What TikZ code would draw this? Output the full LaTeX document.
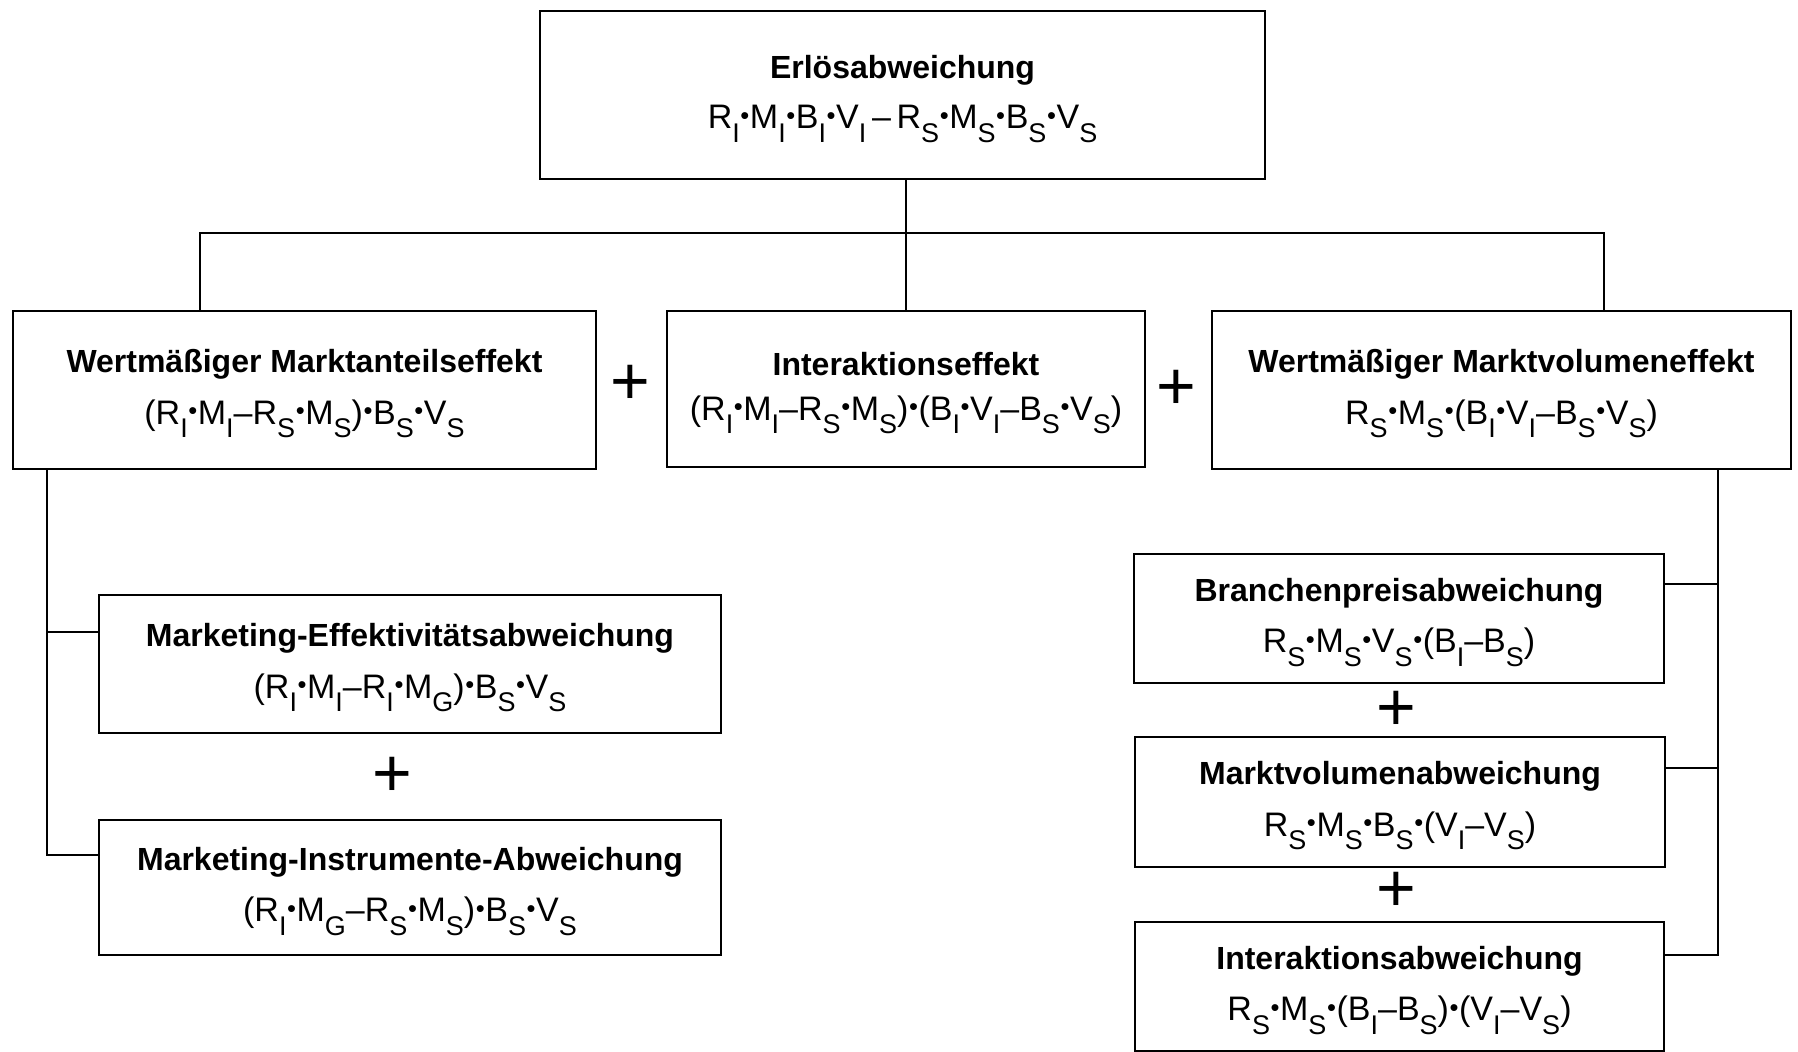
\documentclass[tikz,border=0pt]{standalone}
\usepackage{fontspec}
\setmainfont{Liberation Sans}
\usetikzlibrary{calc}
\newcommand{\ix}[2]{#1\raisebox{-0.75ex}{\fontsize{13.5}{13.5}\selectfont #2}}
\newcommand{\bt}{\kern0.3pt\raisebox{0.25ex}{\scalebox{0.75}{\textbullet}}\kern0.3pt}
\newcommand{\tl}[1]{{\fontsize{16}{19}\selectfont\bfseries\rule{0pt}{15.5pt}#1}}
\newcommand{\fm}[1]{{\fontsize{17}{20}\selectfont #1}}
\tikzset{
  box/.style={draw, line width=1.2pt, align=center, inner sep=0pt},
  conn/.style={line width=1pt},
  plus/.style={inner sep=0pt, font=\fontsize{34}{34}\selectfont\addfontfeature{FakeBold=-0.3}}
}
\begin{document}
\begin{tikzpicture}[x=0.5pt,y=-0.5pt]
\useasboundingbox (0,0) rectangle (1798,1051);
\node[box, minimum width=362.5pt, minimum height=84pt] (top) at (902.5,95)
  {\tl{Erlösabweichung}\\[9pt]\fm{\ix{R}{I}\bt\ix{M}{I}\bt\ix{B}{I}\bt\ix{V}{I}\,–\,\ix{R}{S}\bt\ix{M}{S}\bt\ix{B}{S}\bt\ix{V}{S}}};
\node[box, minimum width=291.5pt, minimum height=79pt] (L1) at (304.5,390)
  {\tl{Wertmäßiger Marktanteilseffekt}\\[9pt]\fm{(\ix{R}{I}\bt\ix{M}{I}–\ix{R}{S}\bt\ix{M}{S})\bt\ix{B}{S}\bt\ix{V}{S}}};
\node[box, minimum width=239pt, minimum height=78pt] (M1) at (906,389)
  {\tl{Interaktionseffekt}\\[9pt]\fm{(\ix{R}{I}\bt\ix{M}{I}–\ix{R}{S}\bt\ix{M}{S})\bt(\ix{B}{I}\bt\ix{V}{I}–\ix{B}{S}\bt\ix{V}{S})}};
\node[box, minimum width=289.5pt, minimum height=79pt] (R1) at (1501.5,390)
  {\tl{Wertmäßiger Marktvolumeneffekt}\\[9pt]\fm{\ix{R}{S}\bt\ix{M}{S}\bt(\ix{B}{I}\bt\ix{V}{I}–\ix{B}{S}\bt\ix{V}{S})}};
\node[box, minimum width=311pt, minimum height=69pt] (L2) at (410,664)
  {\tl{Marketing-Effektivitätsabweichung}\\[9pt]\fm{(\ix{R}{I}\bt\ix{M}{I}–\ix{R}{I}\bt\ix{M}{G})\bt\ix{B}{S}\bt\ix{V}{S}}};
\node[box, minimum width=311pt, minimum height=67.5pt] (L3) at (410,887.5)
  {\tl{Marketing-Instrumente-Abweichung}\\[9pt]\fm{(\ix{R}{I}\bt\ix{M}{G}–\ix{R}{S}\bt\ix{M}{S})\bt\ix{B}{S}\bt\ix{V}{S}}};
\node[box, minimum width=265pt, minimum height=64.5pt] (R2) at (1399,618.5)
  {\tl{Branchenpreisabweichung}\\[9pt]\fm{\ix{R}{S}\bt\ix{M}{S}\bt\ix{V}{S}\bt(\ix{B}{I}–\ix{B}{S})}};
\node[box, minimum width=265pt, minimum height=65pt] (R3) at (1400,802)
  {\tl{Marktvolumenabweichung}\\[9pt]\fm{\ix{R}{S}\bt\ix{M}{S}\bt\ix{B}{S}\bt(\ix{V}{I}–\ix{V}{S})}};
\node[box, minimum width=264.5pt, minimum height=64.5pt] (R4) at (1399.5,986.5)
  {\tl{Interaktionsabweichung}\\[9pt]\fm{\ix{R}{S}\bt\ix{M}{S}\bt(\ix{B}{I}–\ix{B}{S})\bt(\ix{V}{I}–\ix{V}{S})}};
\node[plus] (p1) at (630,385) {+};
\node[plus] (p2) at (1176,390) {+};
\node[plus] (p3) at (392,777) {+};
\node[plus] (p4) at (1396,711) {+};
\node[plus] (p5) at (1396,892) {+};
% top connectors
\draw[conn] (top.south -| M1.north) -- (M1.north);
\draw[conn] ([xshift=94pt]L1.north west) -- ++(0,38.5pt) -| ([xshift=-94pt]R1.north east);
% left branch
\coordinate (lx) at ([xshift=17.5pt]L1.south west);
\coordinate (l2b) at ($(L2.north west)!0.27!(L2.south west)$);
\coordinate (l3b) at ($(L3.north west)!0.26!(L3.south west)$);
\draw[conn] (lx) |- (l3b);
\draw[conn] (l2b -| lx) -- (l2b);
% right branch
\coordinate (rx) at ([xshift=-37pt]R1.south east);
\coordinate (r2b) at ($(R2.north east)!0.24!(R2.south east)$);
\coordinate (r3b) at ($(R3.north east)!0.24!(R3.south east)$);
\coordinate (r4b) at ($(R4.north east)!0.26!(R4.south east)$);
\draw[conn] (rx) |- (r4b);
\draw[conn] (r2b -| rx) -- (r2b);
\draw[conn] (r3b -| rx) -- (r3b);
\end{tikzpicture}
\end{document}
